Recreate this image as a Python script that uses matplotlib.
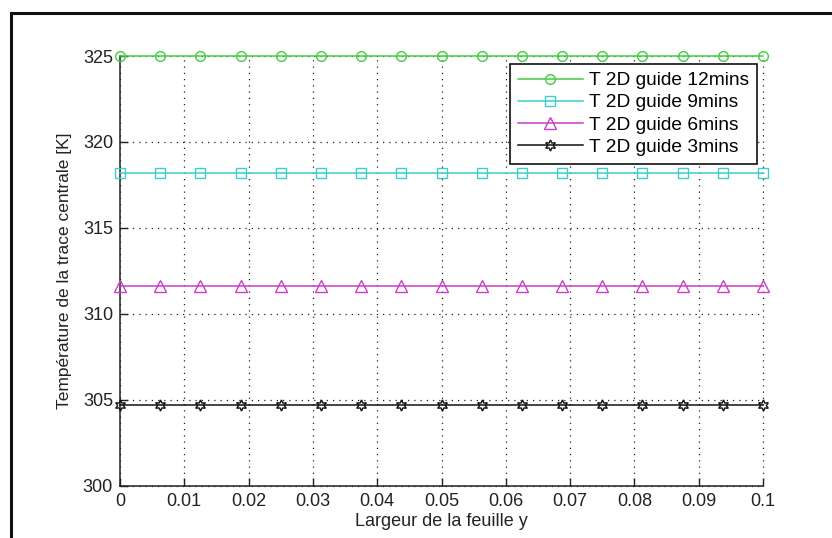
import matplotlib
matplotlib.use('Agg')
import matplotlib.pyplot as plt
from matplotlib.lines import Line2D

plt.rcParams['font.family'] = ['Liberation Sans', 'DejaVu Sans']

# largeur y (m), 17 points de mesure
y_pos = [0.0, 0.00625, 0.0125, 0.01875, 0.025, 0.03125, 0.0375, 0.04375, 0.05,
         0.05625, 0.0625, 0.06875, 0.075, 0.08125, 0.0875, 0.09375, 0.1]

# température au centre de la trace (K), constante sur la largeur
T_12 = [325.0] * 17
T_9 = [318.2] * 17
T_6 = [311.6] * 17
T_3 = [304.7] * 17

labels = ['T 2D guide 12mins', 'T 2D guide 9mins', 'T 2D guide 6mins', 'T 2D guide 3mins']
x_ticks = [0, 0.01, 0.02, 0.03, 0.04, 0.05, 0.06, 0.07, 0.08, 0.09, 0.1]
x_ticklabels = ['0', '0.01', '0.02', '0.03', '0.04', '0.05', '0.06', '0.07', '0.08', '0.09', '0.1']
y_ticks = [300, 305, 310, 315, 320, 325]

fig = plt.figure(figsize=(8.32, 5.38), dpi=100)
ax = fig.add_axes([0.1442, 0.0967, 0.7729, 0.7992])

hexagram = (6, 1, 0)
styles = [
    (T_12, '#3fcf3f', 'o', 7),
    (T_9, '#3fcccc', 's', 7),
    (T_6, '#c83fc8', '^', 8),
    (T_3, '#111111', hexagram, 8),
]
for (vals, col, mk, ms), lab in zip(styles, labels):
    ax.plot(y_pos, vals, color=col, linewidth=1.1, marker=mk, markersize=ms,
            markerfacecolor='none', markeredgecolor=col, markeredgewidth=1.0,
            label=lab, clip_on=False, zorder=3)

ax.set_xlim(0, 0.1)
ax.set_ylim(300, 325)
ax.set_xticks(x_ticks)
ax.set_xticklabels(x_ticklabels)
ax.set_yticks(y_ticks)

for s in ('top', 'right'):
    ax.spines[s].set_visible(False)
for s in ('left', 'bottom'):
    ax.spines[s].set_linewidth(1.1)
    ax.spines[s].set_color('#222222')

ax.tick_params(direction='in', length=6, width=1.0, labelsize=13,
               colors='#222222', pad=5)
ax.grid(True, color='#222222', linestyle=(0, (1, 4)), linewidth=0.9)
for gl in ax.get_xgridlines() + ax.get_ygridlines():
    gl.set_clip_on(False)

ax.set_xlabel('Largeur de la feuille y', fontsize=13, color='#222222', labelpad=2)
ax.set_ylabel('Température de la trace centrale [K]', fontsize=12.5,
              color='#222222', labelpad=8)

leg = ax.legend(loc='upper right', bbox_to_anchor=(0.991, 0.981), borderaxespad=0,
                fontsize=13.8, fancybox=False, framealpha=1, edgecolor='#111111',
                handlelength=3.4, handletextpad=0.35, labelspacing=0.25,
                borderpad=0.4)
leg.get_frame().set_linewidth(1.2)

# cadre de la figure
fig.add_artist(Line2D([11 / 832, 11 / 832], [0, 1 - 13 / 538], transform=fig.transFigure,
                      color='#111111', linewidth=2.2))
fig.add_artist(Line2D([11 / 832, 1], [1 - 13 / 538, 1 - 13 / 538], transform=fig.transFigure,
                      color='#111111', linewidth=2.2))

fig.savefig('out.png', dpi=100)
